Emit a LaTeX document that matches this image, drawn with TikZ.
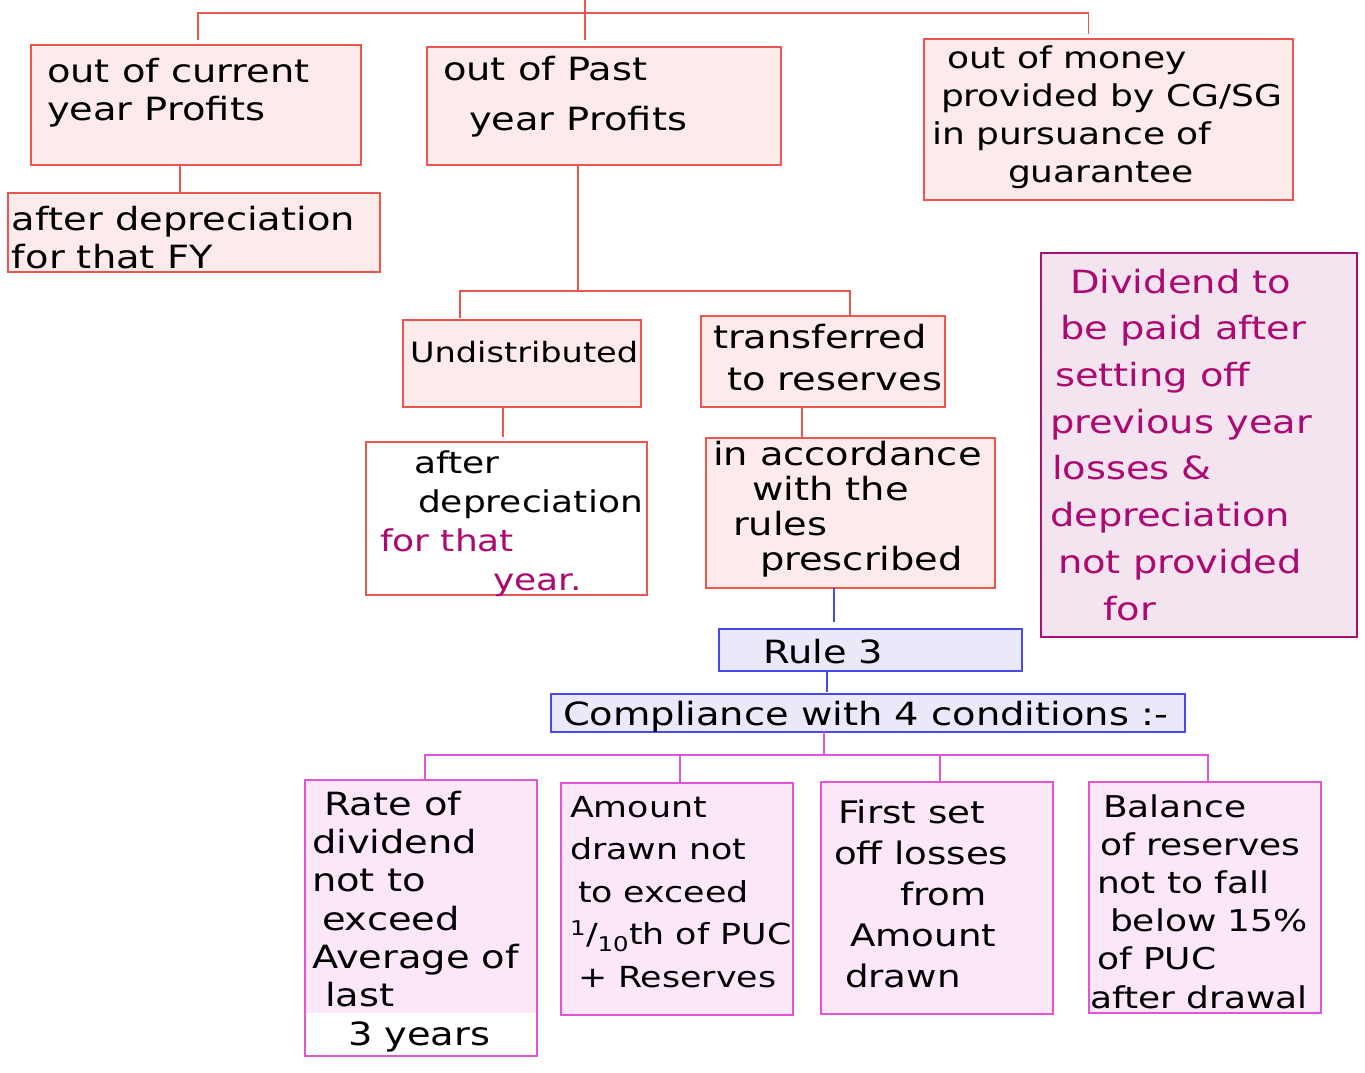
\documentclass[tikz,border=0pt]{standalone}
\usepackage{fontspec}
\setmainfont{DejaVu Sans}[FakeStretch=1.2]
\usetikzlibrary{calc}
\definecolor{redline}{RGB}{236,86,78}
\definecolor{pinkfill}{RGB}{252,235,234}
\definecolor{blueline}{RGB}{72,72,236}
\definecolor{lavfill}{RGB}{233,233,250}
\definecolor{magline}{RGB}{228,84,216}
\definecolor{magfill}{RGB}{251,231,248}
\definecolor{plumline}{RGB}{170,16,112}
\definecolor{plumfill}{RGB}{243,228,239}
\definecolor{plumtext}{RGB}{172,10,112}
\newcommand\fsz[2]{\fontsize{#1}{#2}\selectfont}
\tikzset{
  basebox/.style={rectangle, inner sep=0pt, outer sep=0pt, line width=1.4pt},
  sz/.style 2 args={minimum width=#1pt, minimum height=#2pt},
  redbox/.style={basebox, draw=redline, fill=pinkfill},
  whitebox/.style={basebox, draw=redline, fill=white},
  bluebox/.style={basebox, draw=blueline, fill=lavfill},
  magbox/.style={basebox, draw=magline, fill=magfill},
  plumbox/.style={basebox, draw=plumline, fill=plumfill, line width=2pt},
  txt/.style={anchor=base west, inner sep=0pt, outer sep=0pt, align=left},
  rl/.style={draw=redline, line width=1.3pt},
  bl/.style={draw=blueline, line width=1.1pt},
  ml/.style={draw=magline, line width=1.3pt},
}
\begin{document}
\begin{tikzpicture}[x=1pt, y=-1pt]
\useasboundingbox (0,0) rectangle (1365,1072);
% boxes
\node[redbox, sz={330}{120}] (b1) at (196,105) {};
\node[redbox, sz={372}{79}] (b2) at (194,232.5) {};
\node[redbox, sz={354}{118}] (b3) at (604,106) {};
\node[redbox, sz={369}{161}] (b4) at (1108.5,119.5) {};
\node[redbox, sz={238}{87}] (b5) at (522,363.5) {};
\node[redbox, sz={244}{91}] (b6) at (823,361.5) {};
\node[whitebox, sz={281}{153}] (b7) at (506.5,518.5) {};
\node[redbox, sz={289}{150}] (b8) at (850.5,513) {};
\node[bluebox, sz={303}{42}] (b9) at (870.5,650) {};
\node[bluebox, sz={634}{38}] (b10) at (868,713) {};
\fill[magfill] (305,780) rectangle (537,1013);
\node[basebox, draw=magline, sz={232}{276}] (b11) at (421,918) {};
\node[magbox, sz={232}{232}] (b12) at (677,899) {};
\node[magbox, sz={232}{232}] (b13) at (937,898) {};
\node[magbox, sz={232}{231}] (b14) at (1205,897.5) {};
\node[plumbox, sz={316}{384}] (b15) at (1199,445) {};
% texts (anchored at the baseline of their last line)
\node[txt, font=\fsz{32}{38}] (t1) at (47,120) {out of current\\year Profits};
\node[txt, font=\fsz{32}{38}] (t2) at (12,268) {after depreciation\\for that FY};
\node[txt, font=\fsz{32}{50}] (t3) at (443,130) {out of Past\\\hspace*{26pt}year Profits};
\node[txt, font=\fsz{30}{38}] (t4) at (941,182) {\hspace*{6pt}out of money\\provided by CG/SG\\\hspace*{-9pt}in pursuance of\\\hspace*{67pt}guarantee};
\node[txt, font=\fsz{28}{38}] (t5) at (410,362) {Undistributed};
\node[txt, font=\fsz{32}{42}] (t6) at (713,390) {transferred\\\hspace*{14pt}to reserves};
\node[txt, font=\fsz{30}{39}] (t7) at (414,590) {after\\\hspace*{4pt}depreciation\\\hspace*{-34pt}\textcolor{plumtext}{for that}\\\hspace*{79pt}\textcolor{plumtext}{year.}};
\node[txt, font=\fsz{32}{35}] (t8) at (713,570) {in accordance\\\hspace*{39pt}with the\\\hspace*{20pt}rules\\\hspace*{47pt}prescribed};
\node[txt, font=\fsz{32}{38}] (t9) at (763,663) {Rule 3};
\node[txt, font=\fsz{32}{38}] (t10) at (563,725) {Compliance with 4 conditions :-};
\node[txt, font=\fsz{32}{38.3}] (t11) at (312,1045) {\hspace*{12pt}Rate of\\dividend\\not to\\\hspace*{10pt}exceed\\Average of\\\hspace*{13pt}last\\\hspace*{36pt}3 years};
\node[txt, font=\fsz{29}{42.5}] (t12) at (570,987) {Amount\\drawn not\\\hspace*{8pt}to exceed\\\textsuperscript{1}/\textsubscript{10}th of PUC\\\hspace*{8pt}+ Reserves};
\node[txt, font=\fsz{31}{41}] (t13) at (838,987) {First set\\\hspace*{-4pt}off losses\\\hspace*{62pt}from\\\hspace*{12pt}Amount\\\hspace*{7pt}drawn};
\node[txt, font=\fsz{30}{38.2}] (t14) at (1097,1008) {\hspace*{6pt}Balance\\\hspace*{3pt}of reserves\\not to fall\\\hspace*{13pt}below 15\%\\of PUC\\\hspace*{-7pt}after drawal};
\node[txt, font=\fsz{32}{46.7}, text=plumtext] (t15) at (1050,620) {\hspace*{20pt}Dividend to\\\hspace*{10pt}be paid after\\\hspace*{5pt}setting off\\previous year\\\hspace*{2pt}losses \&\\depreciation\\\hspace*{8pt}not provided\\\hspace*{53pt}for};
% connectors
\coordinate (root) at (585,0);
\coordinate (bus) at (585,13);
\draw[rl] (root) -- (bus);
\draw[rl] ($(b1.north)+(2,-5)$) -- ($(b1.north |- bus)+(2,0)$) -- ($(b4.north |- bus)+(-20,0)$) -- ($(b4.north)+(-20,-5)$);
\draw[rl] (bus) -- ($(bus |- b3.north)+(0,-7)$);
\draw[rl] ($(b1.south)+(-16,0)$) -- ($(b1.south |- b2.north)+(-16,0)$);
\coordinate (bus2) at (578,291);
\draw[rl] ($(b3.south)+(-26,0)$) -- (bus2);
\draw[rl] ($(b5.north)+(-62,-2)$) -- ($(b5.north |- bus2)+(-62,0)$) -- ($(b6.north |- bus2)+(27,0)$) -- ($(b6.north)+(27,0)$);
\draw[rl] ($(b5.south)+(-19,0)$) -- ($(b5.south |- b7.north)+(-19,-5)$);
\draw[rl] ($(b6.south)+(-21,0)$) -- ($(b6.south |- b8.north)+(-21,0)$);
\draw[bl] ($(b8.south)+(-16.5,0)$) -- ($(b8.south |- b9.north)+(-16.5,-7)$);
\draw[bl] ($(b9.south)+(-43.5,0)$) -- ($(b9.south |- b10.north)+(-43.5,-2)$);
\coordinate (bus3) at (824,755);
\draw[ml] ($(b10.south)+(-44,0)$) -- (bus3);
\draw[ml] ($(b11.north)+(4,0)$) -- ($(b11.north |- bus3)+(4,0)$) -- ($(b14.north |- bus3)+(3,0)$) -- ($(b14.north)+(3,0)$);
\draw[ml] ($(b12.north)+(3,0)$) -- ($(b12.north |- bus3)+(3,0)$);
\draw[ml] ($(b13.north)+(3,0)$) -- ($(b13.north |- bus3)+(3,0)$);
\end{tikzpicture}
\end{document}
